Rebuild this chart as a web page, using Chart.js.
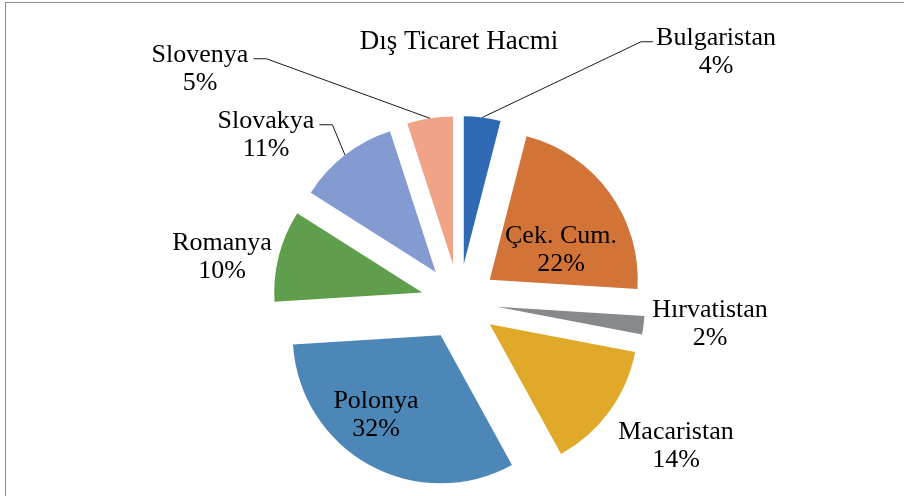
<!DOCTYPE html>
<html lang="tr">
<head>
<meta charset="utf-8">
<title>Dış Ticaret Hacmi</title>
<script src="https://cdn.jsdelivr.net/npm/chart.js@4.4.1/dist/chart.umd.min.js"></script>
<style>
  html, body { margin: 0; padding: 0; background: #fff; }
  #wrap { position: relative; width: 904px; height: 496px; overflow: hidden; }
  #frame {
    position: absolute; left: 5px; top: 2px; right: -4px; bottom: -4px;
    border-top: 1px solid #8c8c8c; border-left: 1px solid #8c8c8c;
    pointer-events: none;
  }
</style>
</head>
<body>
<div id="wrap">
  <canvas id="chart" width="904" height="496"></canvas>
  <div id="frame"></div>
</div>
<script>
  // data
  const countries = ['Bulgaristan', 'Çek. Cum.', 'Hırvatistan', 'Macaristan', 'Polonya', 'Romanya', 'Slovakya', 'Slovenya'];
  const shares = [4, 22, 2, 14, 32, 10, 11, 5];

  // look
  const sliceColors = ['#3069b4', '#d27338', '#878a8c', '#e0a92a', '#4d87b8', '#5f9e4c', '#839bd0', '#f0a386'];
  // where each label block sits, relative to the pie centre (Excel labels were dragged by hand)
  const labelOffsets = [[257, -250], [102, -52], [251, 22], [217, 144], [-83, 113], [-237, -45], [-193, -167], [-259, -233]];
  const hasLeader = [true, false, false, false, false, false, true, true];
  const EXPLODE = 38;
  const LINE_GAP = 28.5;
  const FONT = '"Liberation Serif", "Times New Roman", serif';

  // pull every slice outward along its bisector
  const explode = {
    id: 'explode',
    afterDatasetUpdate(chart, args) {
      const meta = chart.getDatasetMeta(args.index);
      meta.data.forEach(arc => {
        const mid = (arc.startAngle + arc.endAngle) / 2;
        arc.x += Math.cos(mid) * EXPLODE;
        arc.y += Math.sin(mid) * EXPLODE;
      });
    }
  };

  const sliceLabels = {
    id: 'sliceLabels',
    afterDatasetsDraw(chart) {
      const { ctx, chartArea } = chart;
      const meta = chart.getDatasetMeta(0);
      const cx = (chartArea.left + chartArea.right) / 2;
      const cy = (chartArea.top + chartArea.bottom) / 2;
      const total = shares.reduce((a, b) => a + b, 0);

      ctx.save();
      ctx.font = '26px ' + FONT;
      ctx.fillStyle = '#000';
      ctx.textAlign = 'center';
      ctx.textBaseline = 'middle';

      meta.data.forEach((arc, i) => {
        const x = cx + labelOffsets[i][0];
        const y = cy + labelOffsets[i][1];
        const name = countries[i];
        const pct = Math.round(shares[i] / total * 100) + '%';
        ctx.fillText(name, x, y - LINE_GAP / 2);
        ctx.fillText(pct, x, y + LINE_GAP / 2);

        if (hasLeader[i]) {
          const mid = (arc.startAngle + arc.endAngle) / 2;
          const sx = arc.x + Math.cos(mid) * arc.outerRadius;
          const sy = arc.y + Math.sin(mid) * arc.outerRadius;
          const half = ctx.measureText(name).width / 2;
          const ly = y - LINE_GAP / 2 + 4;
          let near, elbow;
          if (x > sx) {
            near = x - half - 3;
            elbow = near - 12;
          } else {
            near = x + half + 5;
            elbow = near + 13;
          }
          ctx.beginPath();
          ctx.moveTo(sx, sy);
          ctx.lineTo(elbow, ly);
          ctx.lineTo(near, ly);
          ctx.strokeStyle = '#1a1a1a';
          ctx.lineWidth = 1;
          ctx.stroke();
        }
      });
      ctx.restore();
    }
  };

  new Chart(document.getElementById('chart'), {
    type: 'pie',
    data: {
      labels: countries,
      datasets: [{
        data: shares,
        backgroundColor: sliceColors,
        borderWidth: 0,
        clip: false
      }]
    },
    options: {
      responsive: false,
      devicePixelRatio: 1,
      animation: false,
      events: [],
      layout: {
        padding: { left: 159, right: 145, top: 0, bottom: 46 }
      },
      plugins: {
        legend: { display: false },
        tooltip: { enabled: false },
        title: {
          display: true,
          text: 'Dış Ticaret Hacmi',
          color: '#000',
          font: { family: FONT, size: 27, weight: 'normal', lineHeight: 1.2 },
          padding: { top: 26, bottom: 95.6 }
        }
      }
    },
    plugins: [explode, sliceLabels]
  });
</script>
</body>
</html>
